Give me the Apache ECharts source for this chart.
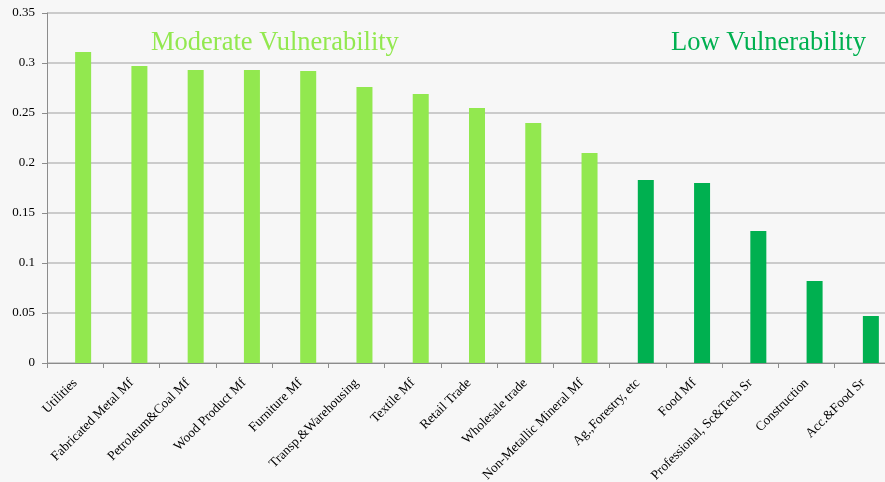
<!DOCTYPE html>
<html><head><meta charset="utf-8">
<script src="https://cdn.jsdelivr.net/npm/echarts@6/dist/echarts.min.js"></script>
<style>html,body{margin:0;padding:0;background:#f7f7f7;overflow:hidden}#c{width:891px;height:482px}</style>
</head><body><div id="c"></div>
<script>
const categories = ["Utilities","Fabricated Metal Mf","Petroleum&Coal Mf","Wood Product Mf","Furniture Mf","Transp.&Warehousing","Textile Mf","Retail Trade","Wholesale trade","Non-Metallic Mineral Mf","Ag.,Forestry, etc","Food Mf","Professional, Sc&Tech Sr","Construction","Acc.&Food Sr"];
const moderateValues = [0.311,0.297,0.293,0.293,0.292,0.276,0.269,0.255,0.240,0.210,null,null,null,null,null];
const lowValues = [null,null,null,null,null,null,null,null,null,null,0.183,0.180,0.132,0.082,0.047];
const yTicks = [0,0.05,0.1,0.15,0.2,0.25,0.3,0.35];
const chart = echarts.init(document.getElementById('c'));
const font = '"Liberation Serif","Times New Roman",serif';
chart.setOption({
  backgroundColor:'#f7f7f7',
  animation:false,
  grid:{left:47,right:0,top:13,bottom:119,containLabel:false,outerBoundsMode:'none'},
  xAxis:{type:'category',data:categories,boundaryGap:true,
    axisLine:{lineStyle:{color:'#8c8c8c',width:1}},
    axisTick:{show:true,length:5,lineStyle:{color:'#8c8c8c'}},
    axisLabel:{rotate:45,fontFamily:font,fontSize:13.3,color:'#000',margin:18,interval:0}},
  yAxis:{type:'value',min:0,max:0.35,interval:0.05,
    axisLine:{show:true,lineStyle:{color:'#8c8c8c'}},
    axisTick:{show:true,length:5,lineStyle:{color:'#8c8c8c'}},
    splitLine:{lineStyle:{color:'#bdbdbd',width:1.5}},
    axisLabel:{fontFamily:font,fontSize:13,color:'#000',margin:12,
      formatter:v=>{const t=yTicks.find(x=>Math.abs(x-v)<1e-9);return t===undefined?'':String(+t.toFixed(2));}}},
  graphic:[
    {type:'text',left:151,top:30,style:{text:'Moderate Vulnerability',font:'26.5px '+font,fill:'#92e84f'}},
    {type:'text',left:671,top:30,style:{text:'Low Vulnerability',font:'26.5px '+font,fill:'#00b050'}}
  ],
  series:[
    {type:'bar',name:'pad',data:categories.map(()=>null),barWidth:16,barGap:'0%'},
    {type:'bar',name:'Moderate',stack:'v',data:moderateValues,barWidth:16,barGap:'0%',itemStyle:{color:'#92e84f'}},
    {type:'bar',name:'Low',stack:'v',data:lowValues,barWidth:16,barGap:'0%',itemStyle:{color:'#00b050'}}
  ]
});
</script></body></html>
